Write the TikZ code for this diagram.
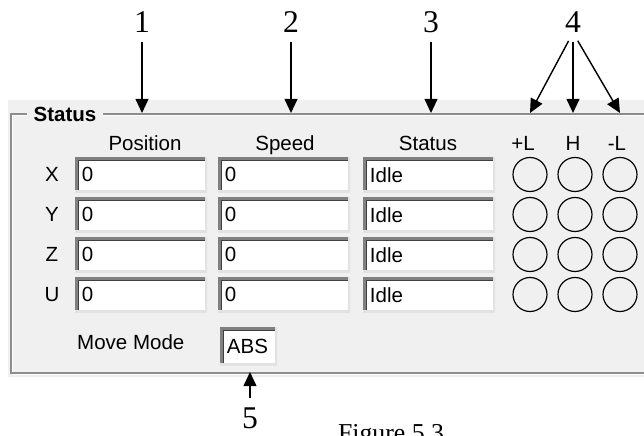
\documentclass[tikz,border=0pt]{standalone}
\usepackage{fontspec}
\setmainfont{Liberation Serif}
\setsansfont{Liberation Sans}
\usetikzlibrary{
    arrows.meta,
    positioning
}
\definecolor{panelgray}{RGB}{240, 240, 240}
\definecolor{edgedark}{RGB}{128, 128, 128}
\definecolor{edgelight}{RGB}{226, 226, 226}
\newcommand{\guifont}{\fontsize{17.5}{20}\selectfont\sffamily}
\newcommand{\calloutfont}{\fontsize{27}{30}\selectfont\rmfamily}

\begin{document}
\begin{tikzpicture}[x=0.03cm, y=-0.03cm,
        field/.style={rectangle, fill=white, anchor=north west, minimum height=1.05cm, text width=3.56cm, inner xsep=0.2cm, inner ysep=0pt, align=left, font=\guifont,
            path picture={
                \draw[edgedark, line width=5pt] (path picture bounding box.south west) -- (path picture bounding box.north west) -- (path picture bounding box.north east);
                \draw[black!75, line width=1pt] ([xshift=2.8pt]path picture bounding box.south west) -- ([xshift=2.8pt, yshift=-2.8pt]path picture bounding box.north west) -- ([yshift=-2.8pt]path picture bounding box.north east);
                \draw[edgelight, line width=3pt] (path picture bounding box.south west) -- (path picture bounding box.south east) -- (path picture bounding box.north east);
            }},
        lamp/.style={circle, draw, line width=1pt, minimum size=1.02cm, inner sep=0pt},
        head/.style={font=\guifont, inner sep=0pt, anchor=base},
        callout/.style={font=\calloutfont, inner sep=0pt},
        arrow/.style={-{Triangle[length=12pt, width=11pt]}, line width=1.2pt, shorten <=8pt}
    ]
        \useasboundingbox (0,0) rectangle (644,435);
        \fill[panelgray] (8,100) rectangle (644,377);

        % group box frame
        \draw[white, line width=1.2pt] (644,115.5) -- (12.5,115.5) -- (12.5,374.5) -- (644,374.5);
        \draw[edgedark!90, line width=1.2pt] (644,114) -- (11,114) -- (11,373) -- (644,373);
        \node[head, fill=panelgray, inner xsep=0.2cm, font=\guifont\bfseries] (grp) at (65,121) {Status};

        \node[head] (hpos) at (145,150) {Position};
        \node[head] (hspd) at (285,150) {Speed};
        \node[head] (hsts) at (428,150) {Status};
        \node[head] (hpl) at (523,150) {+L};
        \node[head] (hhm) at (573,150) {H};
        \node[head] (hml) at (617,150) {-L};

        \foreach \ax [count=\r from 0] in {X,Y,Z,U} {
            \pgfmathsetmacro{\ty}{157+40*\r}
            \node[head] (row\ax) at (52,{\ty+24}) {\ax};
            \node[field] (pos\ax) at (75,\ty) {0};
            \node[field] (spd\ax) at (218,\ty) {0};
            \node[field] (sts\ax) at (363,\ty) {Idle};
            \node[lamp] (pl\ax) at (530,{\ty+17.5}) {};
            \node[lamp] (hm\ax) at (575,{\ty+17.5}) {};
            \node[lamp] (ml\ax) at (620,{\ty+17.5}) {};
        }

        \node[head, anchor=base west] (mode) at (77,349) {Move Mode};
        \node[field, minimum height=1.14cm, text width=1.31cm] (abs) at (220,327) {ABS};

        % callouts
        \node[callout] (c1) at (142,22) {1};
        \node[callout] (c2) at (291,22) {2};
        \node[callout] (c3) at (431,22) {3};
        \node[callout] (c4) at (573,22) {4};
        \node[callout] (c5) at (250,418) {5};
        \coordinate (t1) at (142,113);
        \coordinate (t2) at (291,113);
        \coordinate (t3) at (431,113);
        \coordinate (t4a) at (530,113);
        \coordinate (t4b) at (573,113);
        \coordinate (t4c) at (620,113);
        \coordinate (t5) at (250,372);

        \draw[arrow] (c1) -- (t1);
        \draw[arrow] (c2) -- (t2);
        \draw[arrow] (c3) -- (t3);
        \draw[arrow] (c4.south) -- (t4a);
        \draw[arrow] (c4.south) -- (t4b);
        \draw[arrow] (c4.south) -- (t4c);
        \draw[arrow] (c5) -- (t5);

        \node[font=\fontsize{22}{24}\selectfont\rmfamily, anchor=base, inner sep=0pt] (fig) at (391,441) {Figure 5.3};
    \end{tikzpicture}
\end{document}
